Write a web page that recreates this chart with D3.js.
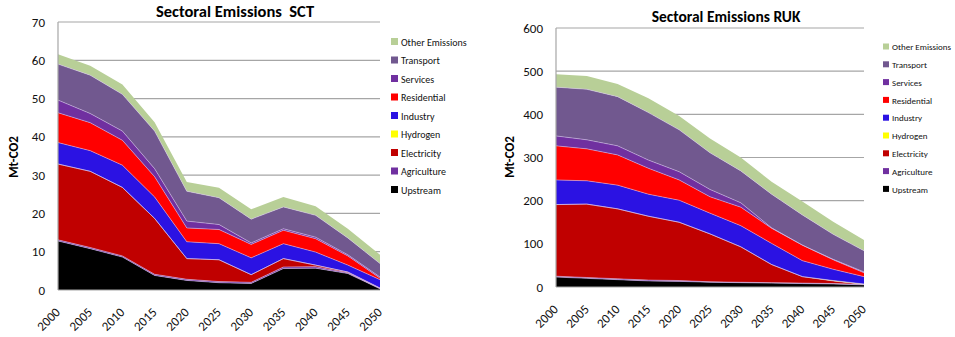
<!DOCTYPE html>
<html>
<head>
<meta charset="utf-8">
<script src="https://cdn.jsdelivr.net/npm/d3@7"></script>
<style>
  body { margin: 0; background: #fff; }
  svg { font-family: Carlito, Lato, "Open Sans", sans-serif; }
</style>
</head>
<body>
<svg id="chart" width="955" height="337"></svg>
<script>
// Years on the x axis
var years = [2000, 2005, 2010, 2015, 2020, 2025, 2030, 2035, 2040, 2045, 2050];

// Sector names, bottom of the stack first
var sectors = ['Upstream', 'Agriculture', 'Electricity', 'Hydrogen', 'Industry',
               'Residential', 'Services', 'Transport', 'Other Emissions'];

var sectorColors = ['#000000', '#7030a0', '#c00000', '#ffff00', '#2b12e3',
                    '#ff0000', '#7030a0', '#71588f', '#b8cf97'];

// SCT values, Mt-CO2
var sctUpstream    = [12.8, 10.8, 8.6, 3.8, 2.5, 1.9, 1.7, 5.6, 5.7, 4.3, 0.3];
var sctAgriculture = [0.3, 0.3, 0.3, 0.3, 0.3, 0.3, 0.3, 0.4, 0.4, 0.2, 0.1];
var sctElectricity = [19.8, 19.9, 17.9, 14.6, 5.4, 5.7, 2.0, 2.2, 0.4, 0.2, 0.1];
var sctHydrogen    = [0, 0, 0, 0, 0, 0, 0, 0, 0, 0, 0];
var sctIndustry    = [5.6, 5.4, 5.8, 5.6, 4.4, 4.2, 4.4, 3.9, 3.4, 1.8, 2.2];
var sctResidential = [7.8, 7.3, 6.5, 5.3, 3.6, 3.7, 3.5, 3.5, 3.5, 2.4, 0.4];
var sctServices    = [3.3, 2.4, 2.4, 2.1, 1.8, 1.3, 0.4, 0.4, 0.4, 0.3, 0.3];
var sctTransport   = [9.4, 10.0, 9.6, 9.8, 7.8, 7.0, 6.2, 5.7, 5.7, 4.4, 3.5];
var sctOther       = [2.6, 2.5, 2.6, 2.3, 2.4, 2.6, 2.6, 2.6, 2.4, 2.4, 2.3];

// RUK values, Mt-CO2
var rukUpstream    = [23, 20, 17, 14, 13, 11, 10, 9, 8, 7, 5];
var rukAgriculture = [2, 2, 2, 2, 2, 1, 1, 1, 1, 1, 1];
var rukElectricity = [166, 170, 162, 148, 135, 111, 82, 42, 15, 6, 0];
var rukHydrogen    = [0, 0, 0, 0, 0, 0, 0, 0, 0, 1, 1];
var rukIndustry    = [57, 54, 55, 51, 51, 48, 49, 49, 37, 26, 17];
var rukResidential = [79, 74, 70, 60, 47, 38, 43, 35, 36, 22, 9];
var rukServices    = [23, 21, 21, 19, 19, 17, 10, 1, 0, 1, 2];
var rukTransport   = [113, 117, 114, 110, 97, 85, 74, 78, 70, 58, 49];
var rukOther       = [30, 31, 29, 33, 32, 33, 31, 29, 31, 29, 25];

var sctSeries = [sctUpstream, sctAgriculture, sctElectricity, sctHydrogen, sctIndustry,
                 sctResidential, sctServices, sctTransport, sctOther];
var rukSeries = [rukUpstream, rukAgriculture, rukElectricity, rukHydrogen, rukIndustry,
                 rukResidential, rukServices, rukTransport, rukOther];

var svg = d3.select('#chart');

function drawChart(opts) {
    var g = svg.append('g');

    // rows keyed by sector name
    var rows = years.map(function(yr, i) {
        var obj = { year: yr };
        sectors.forEach(function(s, k) { obj[s] = opts.series[k][i]; });
        return obj;
    });

    var x = d3.scaleLinear().domain([2000, 2050]).range([opts.left, opts.right]);
    var y = d3.scaleLinear().domain([0, opts.yMax]).range([opts.bottom, opts.top]);

    // gridlines
    g.append('g')
        .selectAll('line')
        .data(d3.range(opts.yStep, opts.yMax + 1, opts.yStep))
        .enter().append('line')
            .attr('x1', opts.left).attr('x2', opts.right)
            .attr('y1', function(d) { return y(d); })
            .attr('y2', function(d) { return y(d); })
            .attr('stroke', '#a6a6a6').attr('stroke-width', 1.2);

    var stack = d3.stack().keys(sectors);
    var layers = stack(rows);

    var area = d3.area()
        .x(function(d) { return x(d.data.year); })
        .y0(function(d) { return y(d[0]); })
        .y1(function(d) { return y(d[1]); });

    var edge = d3.line()
        .x(function(d) { return x(d.data.year); })
        .y(function(d) { return y(d[1]); });

    g.selectAll('.area')
        .data(layers)
        .enter().append('path')
            .attr('class', 'area')
            .attr('fill', function(d, i) { return sectorColors[i]; })
            .attr('d', area);

    // thin light edges between layers
    g.selectAll('.edge')
        .data(layers.slice(0, layers.length - 1))
        .enter().append('path')
            .attr('class', 'edge')
            .attr('fill', 'none')
            .attr('stroke', 'rgba(215,195,240,0.75)')
            .attr('stroke-width', 0.7)
            .attr('d', edge);

    // axes lines
    g.append('line')
        .attr('x1', opts.left).attr('x2', opts.left)
        .attr('y1', opts.top).attr('y2', opts.bottom)
        .attr('stroke', '#a6a6a6').attr('stroke-width', 1.2);
    g.append('line')
        .attr('x1', opts.left).attr('x2', opts.right)
        .attr('y1', opts.bottom).attr('y2', opts.bottom)
        .attr('stroke', '#a6a6a6').attr('stroke-width', 1.2);

    // y tick labels
    g.append('g')
        .selectAll('text')
        .data(d3.range(0, opts.yMax + 1, opts.yStep))
        .enter().append('text')
            .attr('x', opts.left - 13)
            .attr('y', function(d) { return y(d) + 4.5; })
            .attr('text-anchor', 'end')
            .attr('font-size', 13)
            .attr('fill', '#111')
            .text(function(d) { return d; });

    // x tick labels, rotated
    g.append('g')
        .selectAll('text')
        .data(years)
        .enter().append('text')
            .attr('transform', function(d) {
                return 'translate(' + (x(d) + 3) + ',' + (opts.bottom + 23) + ') rotate(-45)';
            })
            .attr('text-anchor', 'end')
            .attr('font-size', 13)
            .attr('fill', '#111')
            .text(function(d) { return d; });

    // title
    g.append('text')
        .attr('x', opts.titleX).attr('y', opts.titleY)
        .attr('text-anchor', 'middle')
        .attr('font-size', opts.titleFont)
        .attr('font-weight', 'bold')
        .style('white-space', 'pre')
        .text(opts.title);

    // y axis label
    g.append('text')
        .attr('transform', 'translate(' + opts.labelX + ',' + 157 + ') rotate(-90)')
        .attr('text-anchor', 'middle')
        .attr('font-size', 13)
        .attr('font-weight', 'bold')
        .text('Mt-CO2');

    // legend, top entry is the top of the stack
    var legendItems = sectors.map(function(s, i) { return { name: s, color: sectorColors[i] }; }).reverse();
    var lg = g.append('g')
        .selectAll('g')
        .data(legendItems)
        .enter().append('g')
            .attr('transform', function(d, i) {
                return 'translate(' + opts.legendX + ',' + (opts.legendY + i * opts.legendStep) + ')';
            });
    lg.append('rect')
        .attr('x', 0).attr('y', -opts.swatch / 2 - 0.5)
        .attr('width', opts.swatch).attr('height', opts.swatch)
        .attr('fill', function(d) { return d.color; });
    lg.append('text')
        .attr('x', opts.swatch + 3)
        .attr('y', opts.legendFont * 0.35)
        .attr('font-size', opts.legendFont)
        .attr('fill', '#111')
        .text(function(d) { return d.name; });
}

drawChart({
    series: sctSeries, title: 'Sectoral Emissions  SCT',
    left: 58, right: 380, top: 22, bottom: 290, yMax: 70, yStep: 10,
    titleX: 235, titleY: 17, titleFont: 16.5, labelX: 18,
    legendX: 391, legendY: 42, legendStep: 18.5, swatch: 7, legendFont: 10
});

drawChart({
    series: rukSeries, title: 'Sectoral Emissions RUK',
    left: 556, right: 864, top: 28, bottom: 287, yMax: 600, yStep: 100,
    titleX: 726, titleY: 22, titleFont: 15.5, labelX: 514,
    legendX: 883, legendY: 47, legendStep: 17.8, swatch: 6, legendFont: 9
});
</script>
</body>
</html>
